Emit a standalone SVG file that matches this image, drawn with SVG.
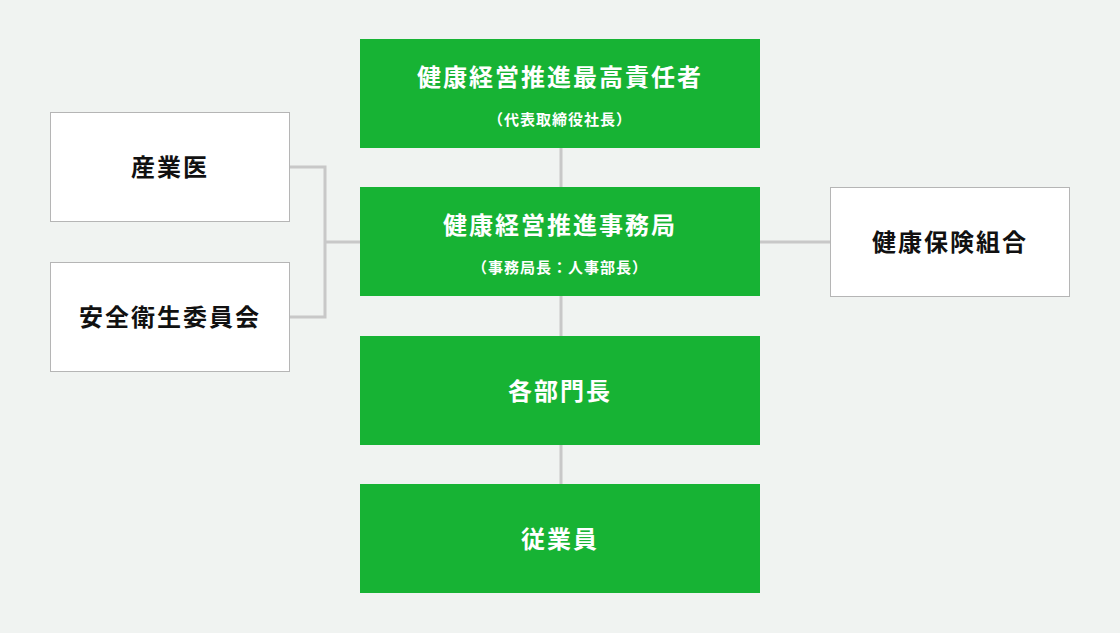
<svg xmlns="http://www.w3.org/2000/svg" width="1120" height="633" viewBox="0 0 1120 633">
<style>
.g{fill:#17b334}
.w{fill:#fff;stroke:#b5b5b5;stroke-width:1}
text{font-family:"Noto Sans CJK JP",sans-serif;font-weight:bold;text-anchor:middle;letter-spacing:2px}
.t{font-size:24px;fill:#fff}
.s{font-size:15px;fill:#fff;letter-spacing:1px}
.b{font-size:24px;fill:#111}
.c{stroke:#c8c8c8;stroke-width:3;fill:none}
</style>
<rect width="1120" height="633" fill="#f0f3f1"/>
<g id="connectors">
<path class="c" d="M561 148V187M561 296V336M561 445V484M289 167H325V317H289M325 242H360M760 242H830"/>
</g>
<g id="n1"><rect class="g" x="360" y="39" width="400" height="109"/><text class="t" x="560" y="86">健康経営推進最高責任者</text><text class="s" x="560" y="125">（代表取締役社長）</text></g>
<g id="n2"><rect class="g" x="360" y="187" width="400" height="109"/><text class="t" x="560" y="234">健康経営推進事務局</text><text class="s" x="560" y="273">（事務局長：人事部長）</text></g>
<g id="n3"><rect class="g" x="360" y="336" width="400" height="109"/><text class="t" x="560" y="400">各部門長</text></g>
<g id="n4"><rect class="g" x="360" y="484" width="400" height="109"/><text class="t" x="560" y="548">従業員</text></g>
<g id="n5"><rect class="w" x="50.5" y="112.5" width="239" height="109"/><text class="b" x="170" y="176">産業医</text></g>
<g id="n6"><rect class="w" x="50.5" y="262.5" width="239" height="109"/><text class="b" x="170" y="326">安全衛生委員会</text></g>
<g id="n7"><rect class="w" x="830.5" y="187.5" width="239" height="109"/><text class="b" x="950" y="251">健康保険組合</text></g>
</svg>
